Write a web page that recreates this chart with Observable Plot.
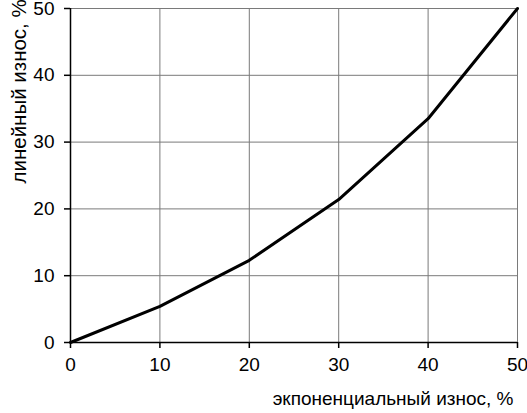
<!DOCTYPE html>
<html>
<head>
<meta charset="utf-8">
<script src="https://cdn.jsdelivr.net/npm/d3@7"></script>
<script src="https://cdn.jsdelivr.net/npm/@observablehq/plot@0.6"></script>
<style>
  html, body { margin: 0; padding: 0; background: #fff; }
  #chart svg { display: block; }
</style>
</head>
<body>
<div id="chart"></div>
<script>
const expWear = [0, 10, 20, 30, 40, 50];
const linWear = [0, 5.4, 12.3, 21.4, 33.5, 50];
const xTicks = [0, 10, 20, 30, 40, 50];
const yTicks = [0, 10, 20, 30, 40, 50];
const xLabel = "экпоненциальный износ, %";
const yLabel = "линейный износ, %";

const data = expWear.map((x, i) => ({x, y: linWear[i]}));

const chart = Plot.plot({
  width: 527,
  height: 413,
  marginLeft: 70,
  marginTop: 8,
  marginRight: 10,
  marginBottom: 71,
  style: {fontFamily: "'Liberation Sans', Arial, sans-serif", fontSize: "19px", color: "#000", background: "#fff", overflow: "visible"},
  x: {domain: [0, 50], label: null},
  y: {domain: [0, 50], label: null},
  marks: [
    Plot.gridX(xTicks, {stroke: "#7a7a7a", strokeOpacity: 1, strokeWidth: 1}),
    Plot.gridY(yTicks, {stroke: "#7a7a7a", strokeOpacity: 1, strokeWidth: 1}),
    Plot.axisX({ticks: xTicks, tickSize: 6, tickPadding: 9, label: null, stroke: "#000", strokeWidth: 1.5, fontSize: 19}),
    Plot.axisY({ticks: yTicks, tickSize: 6, tickPadding: 10, label: null, stroke: "#000", strokeWidth: 1.5, fontSize: 19}),
    Plot.ruleX([0], {stroke: "#000", strokeWidth: 1.5}),
    Plot.ruleY([0], {stroke: "#000", strokeWidth: 1.5}),
    Plot.line(data, {x: "x", y: "y", stroke: "#000", strokeWidth: 3}),
    Plot.text([yLabel], {text: d => d, frameAnchor: "top-left", rotate: -90, textAnchor: "start", dx: -59, dy: 175, fontSize: 20.5, fill: "#000"}),
    Plot.text([xLabel], {text: d => d, frameAnchor: "bottom-right", textAnchor: "end", dx: -4, dy: 62.5, fontSize: 19, fill: "#000"})
  ]
});
document.getElementById("chart").appendChild(chart);
</script>
</body>
</html>
